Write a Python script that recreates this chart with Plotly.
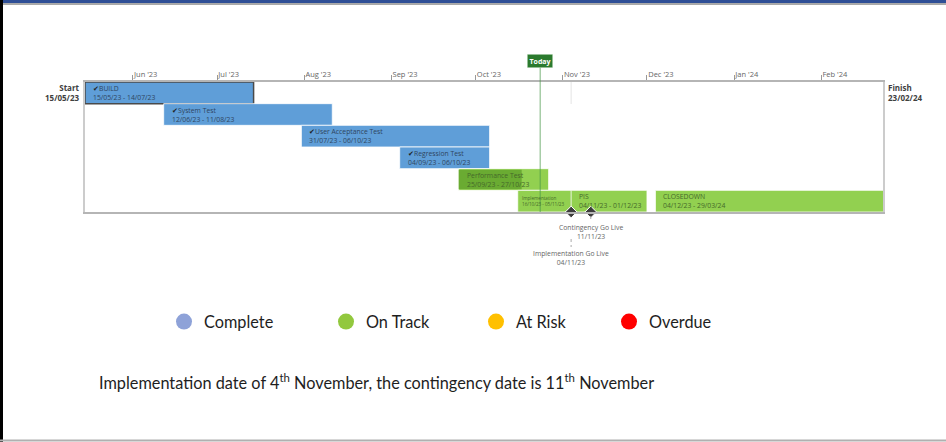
import plotly.graph_objects as go
import pandas as pd

# ---------------- data ----------------
tasks = ["BUILD", "System Test", "User Acceptance Test", "Regression Test",
         "Performance Test", "Implementation", "PIS", "CLOSEDOWN"]
starts = ["2023-05-15", "2023-06-12", "2023-07-31", "2023-09-04",
          "2023-09-25", "2023-10-16", "2023-11-04", "2023-12-04"]
ends = ["2023-07-14", "2023-08-11", "2023-10-06", "2023-10-06",
        "2023-10-27", "2023-11-05", "2023-12-01", "2024-03-29"]
rows = [0, 1, 2, 3, 4, 5, 5, 5]
status = ["Complete", "Complete", "Complete", "Complete",
          "On Track", "On Track", "On Track", "On Track"]
progress = [100, 100, 100, 100, 70, 0, 0, 0]

milestones = ["Implementation Go Live", "Contingency Go Live"]
milestone_dates = ["2023-11-04", "2023-11-11"]

project_start = "2023-05-15"
project_finish = "2024-02-23"
today = "2023-10-24"

legend_labels = ["Complete", "On Track", "At Risk", "Overdue"]
legend_colors = ["#8ea2d8", "#92c83e", "#ffc000", "#ff0000"]

footnote = ("Implementation date of 4<sup>th</sup> November, "
            "the contingency date is 11<sup>th</sup> November")

# ---------------- styling helpers ----------------
W, H = 946, 442
ML, MR, MT, MB = 85, 63, 82, 230
PW, PH = W - ML - MR, H - MT - MB


def px_x(p):
    return (p - ML) / PW


def px_y(p):
    return (H - MB - p) / PH


BAR_COL = {"Complete": "#5f9ed8", "On Track": "#92d050"}
TXT_COL = {"Complete": "#2f4560", "On Track": "#45692a"}
PROG_COL = "#6aab32"
LEGEND_PX = [184, 346, 496, 629]   # circle centre positions (layout)

s = pd.to_datetime(starts)
e = pd.to_datetime(ends)
dur_ms = [(b - a).total_seconds() * 1000 for a, b in zip(s, e)]

fig = go.Figure()

# main bars
fig.add_trace(go.Bar(
    orientation="h",
    y=rows,
    base=starts,
    x=dur_ms,
    width=1,
    marker=dict(color=[BAR_COL[st] for st in status],
                line=dict(color=["#4a4a4a" if i == 0 else "white" for i in range(len(tasks))],
                          width=[1.5 if i == 0 else 0.8 for i in range(len(tasks))])),
    showlegend=False,
    hoverinfo="skip",
))

# progress overlay for partially complete tasks
p_rows, p_base, p_dur = [], [], []
for i, p in enumerate(progress):
    if 0 < p < 100:
        p_rows.append(rows[i])
        p_base.append(starts[i])
        p_dur.append(dur_ms[i] * p / 100)
fig.add_trace(go.Bar(
    orientation="h", y=p_rows, base=p_base, x=p_dur, width=0.9,
    marker=dict(color=PROG_COL, line=dict(width=0)),
    showlegend=False, hoverinfo="skip",
))

# milestones
fig.add_trace(go.Scatter(
    x=milestone_dates, y=[5.5] * len(milestone_dates), mode="markers",
    marker=dict(symbol="diamond", size=9, color="#3c3c3c",
                line=dict(color="white", width=1)),
    cliponaxis=False, showlegend=False, hoverinfo="skip",
))

# legend entries, each in its own legend box
legend_layouts = {}
for k, (lab, col) in enumerate(zip(legend_labels, legend_colors)):
    lname = "legend" if k == 0 else f"legend{k + 1}"
    fig.add_trace(go.Scatter(
        x=[None], y=[None], mode="markers", name=lab, legend=lname,
        marker=dict(symbol="circle", size=16, color=col),
    ))
    legend_layouts[lname] = dict(
        orientation="h", x=px_x(LEGEND_PX[k] - 20), y=px_y(322),
        xanchor="left", yanchor="middle",
        font=dict(family="Lato", size=16.3, color="#1e1e1e"),
        itemsizing="trace", bgcolor="rgba(0,0,0,0)",
    )

annotations = []
# bar labels
for i, t in enumerate(tasks):
    d = f"{s[i]:%d/%m/%y} - {e[i]:%d/%m/%y}"
    if status[i] == "Complete":
        txt = f"<span style='color:#1e1e1e'>✔</span>{t}<br>{d}"
    else:
        txt = f"{t}<br>{d}"
    size = 4.6 if t == "Implementation" else 6.8
    annotations.append(dict(
        x=starts[i], y=rows[i], xref="x", yref="y", text=txt, showarrow=False,
        xanchor="left", yanchor="middle", align="left", xshift=6 if size > 5 else 2,
        font=dict(family="Open Sans", size=size, color=TXT_COL[status[i]]),
    ))

# start / finish labels
annotations.append(dict(
    x=project_start, y=1, xref="x", yref="paper", xanchor="right", yanchor="top",
    xshift=-3, yshift=2, align="right", showarrow=False,
    text="<b>Start</b><br><b>" + pd.Timestamp(project_start).strftime("%d/%m/%y") + "</b>",
    font=dict(family="Open Sans", size=8, color="#404040"),
))
annotations.append(dict(
    x=project_finish, y=1, xref="x", yref="paper", xanchor="left", yanchor="top",
    xshift=3, yshift=2, align="left", showarrow=False,
    text="<b>Finish</b><br><b>" + pd.Timestamp(project_finish).strftime("%d/%m/%y") + "</b>",
    font=dict(family="Open Sans", size=8, color="#404040"),
))

# today label
annotations.append(dict(
    x=today, y=px_y(61), xref="x", yref="paper", xanchor="center", yanchor="middle",
    text="<b>Today</b>", showarrow=False, bgcolor="#2b7a2e", borderpad=2,
    bordercolor="#cfe5cf", borderwidth=0.5,
    font=dict(family="Open Sans", size=7, color="white"),
))

# milestone labels (contingency nearer, implementation further down)
ms_label_top = [px_y(247), px_y(221)]
ms_conn = [(px_y(239), px_y(247)), (px_y(216), px_y(222))]
shapes = []
for i, (m, d) in enumerate(zip(milestones, milestone_dates)):
    annotations.append(dict(
        x=d, y=ms_label_top[i], xref="x", yref="paper", xanchor="center", yanchor="top",
        text=f"{m}<br>{pd.Timestamp(d):%d/%m/%y}", showarrow=False, align="center",
        font=dict(family="Open Sans", size=6.8, color="#666666"),
    ))
    shapes.append(dict(type="line", xref="x", yref="paper", x0=d, x1=d,
                       y0=ms_conn[i][0], y1=ms_conn[i][1],
                       line=dict(color="#aaaaaa", width=1, dash="dot")))

# faint go-live guide near top
shapes.append(dict(type="line", xref="x", yref="paper",
                   x0=milestone_dates[0], x1=milestone_dates[0], y0=px_y(104), y1=1,
                   line=dict(color="#e4e4e4", width=1)))

# today line
shapes.append(dict(type="line", xref="x", yref="paper", x0=today, x1=today,
                   y0=0, y1=px_y(66), layer="above",
                   line=dict(color="rgba(70,150,70,0.6)", width=1.2)))

# footnote
annotations.append(dict(
    x=px_x(97), y=px_y(381), xref="paper", yref="paper", xanchor="left", yanchor="middle",
    text=footnote, showarrow=False,
    font=dict(family="Lato", size=16.3, color="#1e1e1e"),
))

# page frame
shapes += [
    dict(type="rect", xref="paper", yref="paper", x0=px_x(0), x1=px_x(W), y0=px_y(0), y1=px_y(3),
         fillcolor="#2f4f96", line=dict(width=0)),
    dict(type="line", xref="paper", yref="paper", x0=px_x(0), x1=px_x(W), y0=px_y(4), y1=px_y(4),
         line=dict(color="#555555", width=1)),
    dict(type="rect", xref="paper", yref="paper", x0=px_x(0), x1=px_x(3), y0=px_y(0), y1=px_y(H),
         fillcolor="#000000", line=dict(width=0)),
    dict(type="line", xref="paper", yref="paper", x0=px_x(0), x1=px_x(W), y0=px_y(440.5), y1=px_y(440.5),
         line=dict(color="#b0b0b0", width=2)),
]

fig.update_layout(
    width=W, height=H,
    margin=dict(l=ML, r=MR, t=MT, b=MB, pad=0),
    paper_bgcolor="white", plot_bgcolor="white",
    barmode="overlay",
    showlegend=True,
    annotations=annotations,
    shapes=shapes,
    xaxis=dict(
        type="date", side="top", range=[project_start, project_finish],
        tick0="2023-06-01", dtick="M1", tickformat="%b '%y",
        ticks="outside", ticklen=5, tickcolor="#999999", tickwidth=1,
        ticklabelposition="outside right",
        tickfont=dict(family="Open Sans", size=7.5, color="#666666"),
        showgrid=False, zeroline=False,
        showline=True, linecolor="#b5b5b5", linewidth=1.5, mirror=True,
        fixedrange=True,
    ),
    yaxis=dict(
        range=[5.5, -0.5], showticklabels=False, ticks="",
        showgrid=False, zeroline=False,
        showline=True, linecolor="#cccccc", linewidth=1.5, mirror=True,
        fixedrange=True,
    ),
    **legend_layouts,
)

fig.write_html("out.html", config={"displayModeBar": False},
               post_script="document.body.style.margin='0';")
